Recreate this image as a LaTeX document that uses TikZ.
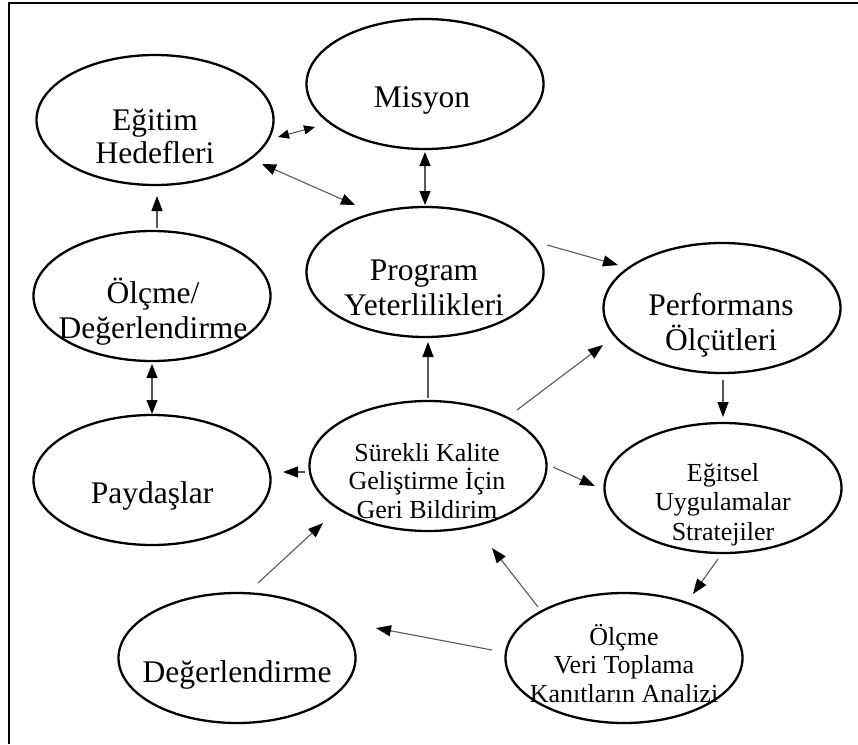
\documentclass[tikz,border=0pt]{standalone}
\usepackage{fontspec}
\setmainfont{Liberation Serif}
\usetikzlibrary{arrows.meta,calc,shapes.geometric}

\tikzset{
  oval/.style={draw=black, line width=2.3pt, ellipse, minimum width=237pt, minimum height=130pt, inner sep=0pt},
  bigtext/.style={font=\fontsize{31.5}{34.5}\selectfont, align=center, anchor=base, inner sep=0pt},
  smalltext/.style={font=\fontsize{26}{28.5}\selectfont, align=center, anchor=base, inner sep=0pt},
  link/.style={draw=black!65, line width=1.1pt, -{Triangle[length=15pt,width=11pt,color=black]}},
  twoway/.style={draw=black!65, line width=1.1pt, {Triangle[length=14pt,width=11pt,color=black]}-{Triangle[length=14pt,width=11pt,color=black]}},
  twowaysmall/.style={draw=black!65, line width=1.1pt, {Triangle[length=11pt,width=9pt,color=black]}-{Triangle[length=11pt,width=9pt,color=black]}},
  frameline/.style={draw=black, line width=2.4pt}
}

\begin{document}
\begin{tikzpicture}[x=1pt, y=-1pt]
  \useasboundingbox (0,0) rectangle (858,744);

  % outer frame (top and left edges)
  \coordinate (frameTR) at (858,3);
  \coordinate (frameTL) at (9,3);
  \coordinate (frameBL) at (9,744);
  \draw[frameline] (frameTR) -- (frameTL) -- (frameBL);

  % ovals
  \node[oval] (egitim)    at (155,120) {};
  \node[oval] (misyon)    at (425,84)  {};
  \node[oval] (program)   at (425,272) {};
  \node[oval] (olcmedeg)  at (152,296) {};
  \node[oval] (paydas)    at (152,480) {};
  \node[oval] (surekli)   at (428,466) {};
  \node[oval] (perf)      at (722,308) {};
  \node[oval] (egitsel)   at (723,488) {};
  \node[oval] (degerl)    at (237,658) {};
  \node[oval] (olcmeveri) at (624,658) {};

  % labels (placed by the baseline of their last line)
  \node[bigtext, font=\fontsize{31.5}{33}\selectfont] (tEgitim) at (155,163) {Eğitim\\Hedefleri};
  \node[bigtext] (tMisyon)   at (422,107) {Misyon};
  \node[bigtext] (tProgram)  at (424,315) {Program\\Yeterlilikleri};
  \node[bigtext] (tPerf)     at (721,350) {Performans\\Ölçütleri};
  \node[bigtext] (tOlcmeDeg) at (153,338) {Ölçme/\\Değerlendirme};
  \node[bigtext] (tPaydas)   at (152,503) {Paydaşlar};
  \node[bigtext] (tDegerl)   at (237,682) {Değerlendirme};
  \node[smalltext] (tSurekli)   at (427,518) {Sürekli Kalite\\Geliştirme İçin\\Geri Bildirim};
  \node[smalltext, font=\fontsize{26}{29.5}\selectfont] (tEgitsel) at (723,540) {Eğitsel\\Uygulamalar\\Stratejiler};
  \node[smalltext] (tOlcmeVeri) at (624,702) {Ölçme\\Veri Toplama\\Kanıtların Analizi};

  % connectors
  \draw[twowaysmall] ($(egitim)+(123,17)$) -- ($(misyon)+(-110,43)$);
  \draw[twoway] ($(egitim)+(107,44)$) -- ($(program)+(-70,-67)$);
  \draw[twoway] ($(misyon)+(0,68)$) -- ($(program)+(0,-67)$);
  \draw[link] ($(olcmedeg)+(5,-68)$) -- ($(egitim)+(2,76)$);
  \draw[twoway] ($(olcmedeg)+(0,68)$) -- ($(paydas)+(0,-66)$);
  \draw[link] ($(program)+(122,-27)$) -- ($(perf)+(-104,-43)$);
  \draw[link] ($(surekli)+(0,-68)$) -- ($(program)+(3,70)$);
  \draw[link] ($(surekli)+(89,-56)$) -- ($(perf)+(-119,37)$);
  \draw[link] ($(surekli)+(-123,6)$) -- ($(paydas)+(131,-8)$);
  \draw[link] ($(surekli)+(125,1)$) -- ($(egitsel)+(-128,-2)$);
  \draw[link] ($(perf)+(1,72)$) -- ($(egitsel)+(0,-71)$);
  \draw[link] ($(egitsel)+(-5,71)$) -- ($(olcmeveri)+(69,-64)$);
  \draw[link] ($(olcmeveri)+(-86,-51)$) -- ($(surekli)+(64,82)$);
  \draw[link] ($(olcmeveri)+(-132,-8)$) -- ($(degerl)+(139,-30)$);
  \draw[link] ($(degerl)+(21,-75)$) -- ($(surekli)+(-105,57)$);
\end{tikzpicture}
\end{document}
